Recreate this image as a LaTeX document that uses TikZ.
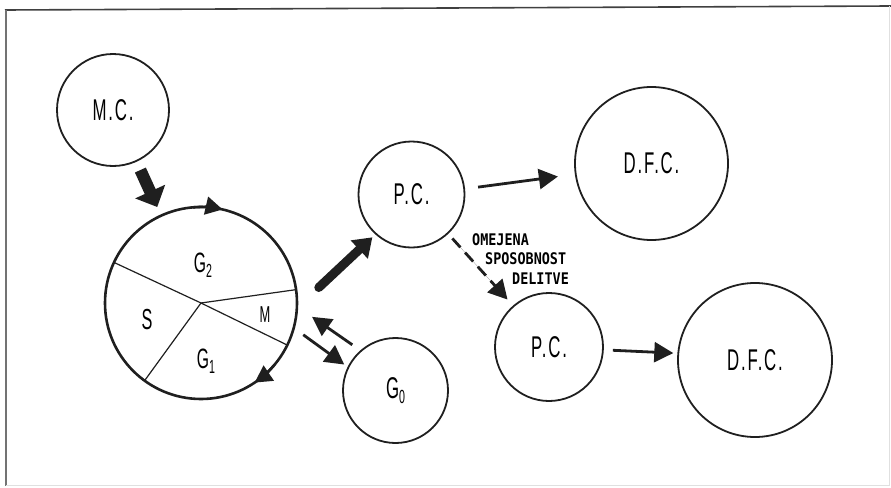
\documentclass[tikz,border=0pt]{standalone}
\usepackage{fontspec}
\setmainfont{Liberation Sans}
\newfontfamily\labfont[FakeStretch=0.56,LetterSpace=6]{Liberation Sans}
\newfontfamily\notefont[FakeStretch=0.84]{DejaVu Sans Mono}
\usetikzlibrary{arrows.meta}
\newcommand{\lowsub}[2][19]{\raisebox{-5pt}{\fontsize{#1}{#1}\selectfont #2}}
\begin{document}
\begin{tikzpicture}[x=1pt,y=-1pt,
  cell/.style={circle, draw=black!88, line width=1.8pt, inner sep=0pt, outer sep=0pt,
    font=\labfont\fontsize{30}{32}\selectfont},
  cyclering/.style={cell, line width=2.6pt},
  sector/.style={draw=black!88, line width=1.2pt},
  phase/.style={font=\labfont\fontsize{28}{30}\selectfont, inner sep=0pt},
  tarrow/.style={draw=black!88, fill=black!88, line width=2.8pt, -{Triangle[length=19pt,width=20pt]}},
  dasharrow/.style={tarrow, dash pattern=on 12pt off 7pt},
  fatarrowa/.style={draw=black!88, fill=black!88, line width=12pt, -{Triangle[length=17pt,width=32pt]}},
  fatarrowb/.style={draw=black!88, fill=black!88, line width=9pt, line cap=round, -{Triangle[length=18pt,width=24pt]}},
  cyctip/.style={draw=black!88, fill=black!88, line width=2.6pt, -{Triangle[length=17pt,width=18pt]}},
  notetext/.style={font=\notefont\bfseries\fontsize{16}{19.5}\selectfont, align=left, inner sep=0pt, anchor=north west}
]
\useasboundingbox (0,0) rectangle (891,487);
% frame
\draw[line width=1.6pt, black!75] (5,10) -- (891,6);
\draw[line width=1.2pt, black!55] (6,10) -- (6,486);
\draw[line width=0.8pt, black!12] (6,485) -- (889,485) -- (889,6);

% nodes
\node[cell, minimum size=112pt] (mc) at (113,110) {M.C.};
\node[cyclering, minimum size=192pt] (cyc) at (201,303) {};
\node[cell, minimum size=106pt] (pc1) at (411.5,194.5) {P.C.};
\node[cell, minimum size=153pt] (dfc1) at (651.5,163.5) {D.F.C.};
\node[cell, minimum size=108pt] (pc2) at (549,347) {P.C.};
\node[cell, minimum size=154pt] (dfc2) at (755,360) {D.F.C.};
\node[cell, minimum size=105pt] (g0) at (395.5,390.5) {\raisebox{-6pt}{G\lowsub{0}}};

% sectors of the cycle
\draw[sector] (cyc.center) -- (cyc.155);
\draw[sector] (cyc.center) -- (cyc.8.9);
\draw[sector] (cyc.center) -- (cyc.-26.8);
\draw[sector] (cyc.center) -- (cyc.-126);
\node[phase] (g2) at (203,265) {G\lowsub{2}};
\node[phase, font=\labfont\fontsize{29}{30}\selectfont] (s) at (147,320) {S};
\node[phase, font=\labfont\fontsize{23}{24}\selectfont] (m) at (265,315) {M};
\node[phase] (g1) at (206,361) {G\lowsub{1}};

% direction arrows on the cycle
\draw[cyctip] (cyc.center) ++(-95:96) arc[start angle=-95, end angle=-77, radius=96];
\draw[cyctip] (cyc.center) ++(40:96) arc[start angle=40, end angle=56, radius=96];

% connectors
\draw[fatarrowa, shorten <=10pt, shorten >=9.5pt] (mc) -- (cyc);
\draw[fatarrowb, shorten <=30pt, shorten >=5pt] (cyc.-3.9) -- (pc1.-132.6);
\draw[tarrow, shorten <=14pt, shorten >=18pt] (pc1.6.3) -- (dfc1.188.5);
\draw[dasharrow, shorten <=7pt, shorten >=9pt] (pc1.-47.7) -- (pc2.131.8);
\draw[tarrow, shorten <=10pt, shorten >=5pt] (pc2.-3.7) -- (dfc2.175.8);
\draw[tarrow, shorten <=10.7pt, shorten >=18.4pt] (g0.131.4) -- (cyc.-2);
\draw[tarrow, shorten <=11.8pt, shorten >=5pt] (cyc.-15.8) -- (g0.154.5);

% note
\node[notetext] (note) at (472,233) {OMEJENA\\\hspace*{13pt}SPOSOBNOST\\\hspace*{40pt}DELITVE};
\end{tikzpicture}
\end{document}
